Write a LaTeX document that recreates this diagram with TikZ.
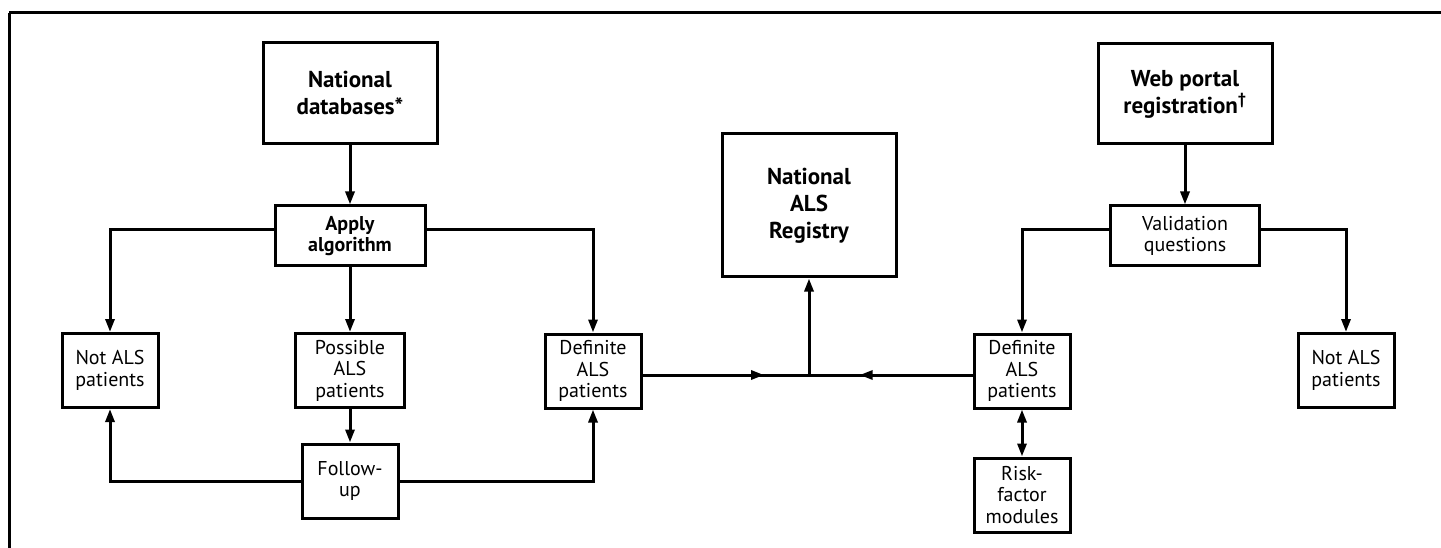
\documentclass[tikz,border=0pt]{standalone}
\usepackage{fontspec}
\setmainfont{PT Sans}
\usetikzlibrary{arrows.meta, positioning, calc, decorations.markings}
\tikzset{
  every picture/.style={line width=3pt},
  >={Triangle[length=13pt, width=9pt]},
  box/.style={draw, rectangle, align=center, inner sep=0pt,
    font=\fontsize{20}{21.5}\selectfont, minimum width=96pt, minimum height=74pt},
  headbox/.style={draw, rectangle, align=center, inner sep=0pt,
    font=\bfseries\fontsize{23}{27}\selectfont, minimum width=174pt, minimum height=101pt},
  stepbox/.style={box, minimum width=150pt, minimum height=60pt},
  midarrow/.style={postaction={decorate}, decoration={markings,
    mark=at position #1 with {\arrow{>}}}}
}

\begin{document}
\begin{tikzpicture}[x=1pt, y=-1pt]
    \useasboundingbox (0,0) rectangle (1441,548);
    % frame
    \draw (9,13) -- (1441,13);
    \draw (9,13) -- (9,548);

    % national databases branch
    \node [headbox] (db) at (350,93) {National\\databases*};
    \node [stepbox, below of=db, node distance=143pt] (alg) {\textbf{Apply}\\\textbf{algorithm}};
    \node [box, below of=alg, node distance=134.5pt, minimum width=109pt] (poss) {Possible\\ALS\\patients};
    \node [box, below of=poss, node distance=110.5pt] (fu) {Follow-\\up};
    \node [box] (notl) at (110,370.5) {Not ALS\\patients};
    \node [box] (defl) at (593,371) {Definite\\ALS\\patients};

    % registry
    \node [headbox, minimum height=143pt] (reg) at (809,205.5) {National\\ALS\\Registry};
    \coordinate (join) at (809,375);

    % web portal branch
    \node [headbox, minimum height=100pt] (web) at (1185,94) {Web portal\\registration\textsuperscript{\dag}};
    \node [stepbox, below of=web, node distance=142pt, minimum width=149pt] (val) {Validation\\questions};
    \node [box] (defr) at (1022,371) {Definite\\ALS\\patients};
    \node [box, below of=defr, node distance=124pt] (risk) {Risk-\\factor\\modules};
    \node [box] (notr) at (1346,370.5) {Not ALS\\patients};

    \draw (db) edge[->] (alg);
    \draw[->] ([yshift=6pt]alg.west) -| (notl);
    \draw[->] ([yshift=6pt]alg.east) -| (defl);
    \draw (alg) edge[->] (poss);
    \draw (poss) edge[->] (fu);
    \draw[->] (fu.west) -| (notl);
    \draw[->] (fu.east) -| (defl);

    \draw (web) edge[->] (val);
    \draw[->] ([yshift=6pt]val.west) -| (defr);
    \draw[->] ([yshift=6pt]val.east) -| (notr);
    \draw (defr) edge[<->] (risk);

    \draw[midarrow=0.73] (defl.east |- join) -- (join);
    \draw[midarrow=0.69] (defr.west |- join) -- (join);
    \draw[->] (join) -- (reg);
\end{tikzpicture}
\end{document}
